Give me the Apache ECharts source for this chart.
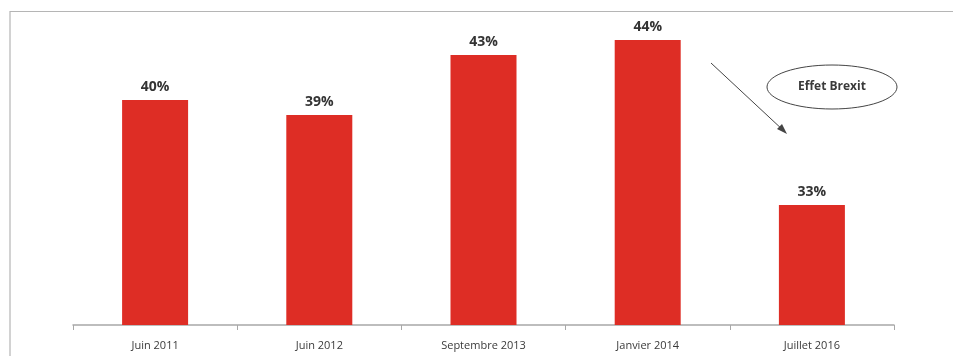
<!DOCTYPE html>
<html>
<head>
<meta charset="utf-8">
<script src="https://cdn.jsdelivr.net/npm/echarts@6/dist/echarts.min.js"></script>
<style>
  html, body { margin: 0; padding: 0; background: #fff; }
  #chart { width: 953px; height: 356px; }
</style>
</head>
<body>
<div id="chart"></div>
<script>
const categories = ['Juin 2011', 'Juin 2012', 'Septembre 2013', 'Janvier 2014', 'Juillet 2016']
const values = [40, 39, 43, 44, 33]

const chart = echarts.init(document.getElementById('chart'))

const option = {
  animation: false,
  grid: {
    left: 73,
    right: 59,
    top: 25,
    bottom: 31,
  },
  xAxis: {
    type: 'category',
    data: categories,
    axisLine: {
      lineStyle: { color: '#a8a8a8', width: 1.5 },
    },
    axisTick: {
      show: true,
      length: 5,
      lineStyle: { color: '#a8a8a8' },
    },
    axisLabel: {
      color: '#3a3a3a',
      fontFamily: 'Open Sans',
      fontSize: 11,
      margin: 15,
    },
  },
  yAxis: {
    type: 'value',
    min: 25,
    max: 45,
    show: false,
  },
  series: [
    {
      type: 'bar',
      data: values,
      barWidth: 66,
      itemStyle: { color: '#de2d25' },
      label: {
        show: true,
        position: 'top',
        distance: 6,
        formatter: '{c}%',
        color: '#333',
        fontFamily: 'Open Sans',
        fontWeight: 'bold',
        fontSize: 14,
      },
    },
  ],
  graphic: [
    // frame
    {
      type: 'polyline',
      shape: { points: [[10, 356], [10, 11.5], [953, 11.5]] },
      style: { stroke: '#b5b5b5', fill: null, lineWidth: 1.2 },
    },
    // annotation
    {
      type: 'ellipse',
      shape: { cx: 832, cy: 87, rx: 65, ry: 22 },
      style: { stroke: '#444', fill: '#fff', lineWidth: 1 },
    },
    {
      type: 'text',
      x: 832,
      y: 87,
      style: {
        text: 'Effet Brexit',
        fill: '#3a3a3a',
        font: 'bold 12px "Open Sans"',
        align: 'center',
        verticalAlign: 'middle',
      },
    },
    {
      type: 'line',
      shape: { x1: 711, y1: 63, x2: 784, y2: 131 },
      style: { stroke: '#444', lineWidth: 1 },
    },
    {
      type: 'polygon',
      shape: { points: [[787, 134], [777, 129], [782, 124]] },
      style: { fill: '#444' },
    },
  ],
}

chart.setOption(option)
</script>
</body>
</html>
